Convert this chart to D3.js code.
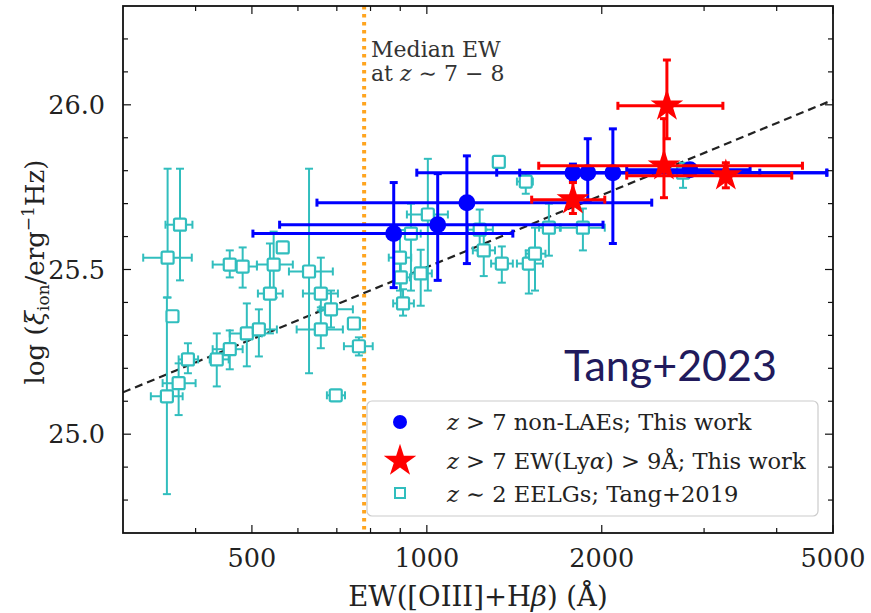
<!DOCTYPE html>
<html><head><meta charset="utf-8">
<script src="https://cdn.jsdelivr.net/npm/d3@7"></script>
<style>
html,body{margin:0;padding:0;background:#fff;}
svg text{font-family:"DejaVu Serif","Liberation Serif",serif;}
</style></head>
<body><svg id="c" width="871" height="613"></svg>
<script>
// ---------- data ----------
// z>7 non-LAEs (blue circles): EW, log xi_ion and error extents
const blueEW   = [877, 1044, 1172, 1784, 1892, 2090, 2836];
const blueY    = [25.609, 25.636, 25.703, 25.794, 25.794, 25.794, 25.803];
const blueEWlo = [502, 558, 647, 961, 1319, 1445, 2208];
const blueEWhi = [1406, 2010, 2438, 3741, 4879, 4879, 3600];
const blueYlo  = [25.445, 25.467, 25.518, 25.77, 25.709, 25.579, 25.79];
const blueYhi  = [25.764, 25.791, 25.845, 25.82, 25.897, 25.927, 25.815];

// z>7 EW(Lya)>9A (red stars)
const redEW   = [2589, 2559, 3270, 1784];
const redY    = [25.997, 25.815, 25.785, 25.712];
const redEWlo = [2132, 1558, 2208, 1515];
const redEWhi = [3232, 4430, 4246, 2024];
const redYlo  = [25.897, 25.718, 25.748, 25.670];
const redYhi  = [26.136, 25.958, 25.824, 25.764];

// z~2 EELGs, Tang+2019 (cyan squares); null = no error bar
const cyanEW   = [358, 376, 365, 357, 374, 388, 435, 458, 490, 514, 458, 482, 545, 565, 537, 627, 657, 684, 657, 749, 764, 697, 1330, 1480, 1004, 939, 899, 902, 976, 910, 1233, 1253, 1346, 1498, 1535, 1622, 1856, 2760];
const cyanY    = [25.536, 25.636, 25.358, 25.115, 25.155, 25.227, 25.227, 25.258, 25.306, 25.318, 25.515, 25.509, 25.515, 25.567, 25.427, 25.494, 25.427, 25.379, 25.318, 25.336, 25.267, 25.118, 25.827, 25.767, 25.667, 25.609, 25.536, 25.476, 25.488, 25.397, 25.621, 25.558, 25.518, 25.518, 25.548, 25.627, 25.627, 25.794];
const cyanEWlo = [325, 355, null, 335, 351, 374, 423, 428, 458, 490, 428, 458, 510, null, 512, 579, 612, 654, 597, null, 720, 673, 1310, 1429, 924, 895, 860, 880, 940, 875, 1177, 1200, 1290, 1429, 1480, 1560, 1700, 2650];
const cyanEWhi = [394, 395, null, 380, 400, 404, 456, 482, 520, 552, 482, 510, 588, null, 565, 689, 703, 746, 717, null, 807, 723, 1350, 1522, 1087, 976, 940, 935, 1020, 950, 1299, 1310, 1406, 1584, 1600, 1694, 2024, 2870];
const cyanYlo  = [25.415, 25.467, null, 24.818, 25.058, 25.185, 25.145, 25.197, 25.206, 25.236, 25.476, 25.445, 25.415, null, 25.306, 25.185, 25.376, 25.324, 25.261, null, 25.239, 25.11, 25.82, 25.730, 25.436, 25.436, 25.436, 25.39, 25.39, 25.36, 25.558, 25.48, 25.46, 25.427, 25.436, 25.542, 25.558, 25.748];
const cyanYhi  = [25.806, 25.806, null, 25.415, 25.215, 25.276, 25.306, 25.315, 25.397, 25.379, 25.558, 25.567, 25.615, null, 25.579, 25.806, 25.536, 25.436, 25.385, null, 25.294, 25.125, 25.835, 25.791, 25.836, 25.70, 25.62, 25.54, 25.56, 25.44, 25.682, 25.621, 25.57, 25.558, 25.627, 25.70, 25.685, 25.824];

// dashed relation and median EW line
const fitEW = [300, 5000];
const fitY  = [25.127, 26.015];
const medianEW = 780;

const xTickVals = [500, 1000, 2000, 5000];
const xMinor = [400, 600, 700, 800, 900, 3000, 4000];
const yTickVals = [25.0, 25.5, 26.0];
const yMinor = [24.8, 24.9, 25.1, 25.2, 25.3, 25.4, 25.6, 25.7, 25.8, 25.9, 26.1, 26.2];

// ---------- layout ----------
const svg = d3.select("#c");
const L = 123, T = 6, R = 833, B = 533;
const x = d3.scaleLog().domain([300, 5000]).range([L, R]);
const y = d3.scaleLinear().domain([24.7, 26.3]).range([B, T]);

const cyan = "#31bebe", blue = "#0000ff", red = "#ff0000";

const plot = svg.append("g");
svg.append("clipPath").attr("id","pc").append("rect")
  .attr("x",L).attr("y",T).attr("width",R-L).attr("height",B-T);
const g = plot.append("g").attr("clip-path","url(#pc)");

// median EW vertical dotted line
g.append("line").attr("x1",x(medianEW)).attr("x2",x(medianEW))
  .attr("y1",T).attr("y2",B).attr("stroke","#ffa51f").attr("stroke-width",4)
  .attr("stroke-dasharray","3.5,4.5");

// dashed fit line
g.append("line").attr("x1",x(fitEW[0])).attr("y1",y(fitY[0]))
  .attr("x2",x(fitEW[1])).attr("y2",y(fitY[1]))
  .attr("stroke","#222").attr("stroke-width",2.2).attr("stroke-dasharray","8,5");

function errbars(sel, n, ew, yy, lo, hi, ylo, yhi, color, w, cap){
  for(let i=0;i<n;i++){
    const cx = x(ew[i]), cy = y(yy[i]);
    if(lo[i]!==null){
      sel.append("line").attr("x1",x(lo[i])).attr("x2",x(hi[i])).attr("y1",cy).attr("y2",cy)
        .attr("stroke",color).attr("stroke-width",w);
      [lo[i],hi[i]].forEach(v=>sel.append("line").attr("x1",x(v)).attr("x2",x(v))
        .attr("y1",cy-cap).attr("y2",cy+cap).attr("stroke",color).attr("stroke-width",w));
    }
    if(ylo[i]!==null){
      sel.append("line").attr("x1",cx).attr("x2",cx).attr("y1",y(ylo[i])).attr("y2",y(yhi[i]))
        .attr("stroke",color).attr("stroke-width",w);
      [ylo[i],yhi[i]].forEach(v=>sel.append("line").attr("x1",cx-cap).attr("x2",cx+cap)
        .attr("y1",y(v)).attr("y2",y(v)).attr("stroke",color).attr("stroke-width",w));
    }
  }
}

// cyan
const gc = g.append("g");
errbars(gc, cyanEW.length, cyanEW, cyanY, cyanEWlo, cyanEWhi, cyanYlo, cyanYhi, cyan, 2, 4);
gc.selectAll("rect.sq").data(cyanEW).join("rect").attr("class","sq")
  .attr("x",(d,i)=>x(d)-6).attr("y",(d,i)=>y(cyanY[i])-6)
  .attr("width",12).attr("height",12).attr("rx",1.5)
  .attr("fill","#fff").attr("stroke",cyan).attr("stroke-width",2.2);

// blue
const gb = g.append("g");
errbars(gb, blueEW.length, blueEW, blueY, blueEWlo, blueEWhi, blueYlo, blueYhi, blue, 3, 4);
gb.selectAll("circle").data(blueEW).join("circle")
  .attr("cx",d=>x(d)).attr("cy",(d,i)=>y(blueY[i])).attr("r",8.5).attr("fill",blue);

// red
const gr = g.append("g");
errbars(gr, redEW.length, redEW, redY, redEWlo, redEWhi, redYlo, redYhi, red, 3, 4);
const star = d3.symbol().type(d3.symbolStar).size(330);
gr.selectAll("path.st").data(redEW).join("path").attr("class","st")
  .attr("d",star).attr("fill",red)
  .attr("transform",(d,i)=>`translate(${x(d)},${y(redY[i])})`);

// axes frame + ticks
const ax = svg.append("g");
ax.append("rect").attr("x",L).attr("y",T).attr("width",R-L).attr("height",B-T)
  .attr("fill","none").attr("stroke","#111").attr("stroke-width",1.8);
function xt(vals,len){
  vals.forEach(v=>{
    ax.append("line").attr("x1",x(v)).attr("x2",x(v)).attr("y1",B).attr("y2",B-len).attr("stroke","#111").attr("stroke-width",1.2);
    ax.append("line").attr("x1",x(v)).attr("x2",x(v)).attr("y1",T).attr("y2",T+len).attr("stroke","#111").attr("stroke-width",1.2);
  });
}
function yt(vals,len){
  vals.forEach(v=>{
    ax.append("line").attr("y1",y(v)).attr("y2",y(v)).attr("x1",L).attr("x2",L+len).attr("stroke","#111").attr("stroke-width",1.2);
    ax.append("line").attr("y1",y(v)).attr("y2",y(v)).attr("x1",R).attr("x2",R-len).attr("stroke","#111").attr("stroke-width",1.2);
  });
}
xt(xTickVals,8); xt(xMinor,5); yt(yTickVals,8); yt(yMinor,5);

ax.selectAll("text.xl").data(xTickVals).join("text").attr("class","xl")
  .attr("x",d=>x(d)).attr("y",567).attr("text-anchor","middle")
  .attr("font-size",25.5).attr("fill","#222").text(d=>d);
ax.selectAll("text.yl").data(yTickVals).join("text").attr("class","yl")
  .attr("x",105).attr("y",d=>y(d)+9).attr("text-anchor","end")
  .attr("font-size",25.5).attr("fill","#222").text(d=>d.toFixed(1));

// axis labels
const xl = svg.append("text").attr("x",478).attr("y",606).attr("text-anchor","middle")
  .attr("font-size",27.5).attr("fill","#222");
xl.append("tspan").text("EW([OIII]+H");
xl.append("tspan").attr("font-style","italic").text("β");
xl.append("tspan").text(") (Å)");

const yl = svg.append("text").attr("transform","translate(44,272) rotate(-90)")
  .attr("text-anchor","middle").attr("font-size",26).attr("fill","#222");
yl.append("tspan").text("log (");
yl.append("tspan").attr("font-style","italic").text("ξ");
yl.append("tspan").attr("font-size",17).attr("dy",5).text("ion");
yl.append("tspan").attr("dy",-5).text("/erg");
yl.append("tspan").attr("font-size",17).attr("dy",-10).text("−1");
yl.append("tspan").attr("dy",10).text("Hz)");

// median annotation
const ma = svg.append("g").attr("font-size",22).attr("fill","#333");
ma.append("text").attr("x",371).attr("y",57).text("Median EW");
const t2 = ma.append("text").attr("x",371).attr("y",81);
t2.append("tspan").text("at ");
t2.append("tspan").attr("font-style","italic").text("z");
t2.append("tspan").text(" ∼ 7 − 8");

// Tang+2023
svg.append("text").attr("x",564).attr("y",381)
  .style("font-family","Lato, 'Open Sans', sans-serif")
  .attr("font-size",43).attr("fill","#211a5c").text("Tang+2023");

// legend
const lg = svg.append("g");
lg.append("rect").attr("x",367).attr("y",401).attr("width",451).attr("height",115).attr("rx",5)
  .attr("fill","#fff").attr("fill-opacity",0.85).attr("stroke","#ccc").attr("stroke-width",1.2);
lg.append("circle").attr("cx",400).attr("cy",422).attr("r",7).attr("fill",blue);
lg.append("path").attr("d",star).attr("fill",red).attr("transform","translate(400,461)");
lg.append("rect").attr("x",395).attr("y",488).attr("width",10).attr("height",10)
  .attr("fill","#fff").attr("stroke",cyan).attr("stroke-width",2);
const fs = 22.6;
const l1 = lg.append("text").attr("x",447).attr("y",430).attr("font-size",fs).attr("fill","#222");
l1.append("tspan").attr("font-style","italic").text("z"); l1.append("tspan").text(" > 7 non-LAEs; This work");
const l2 = lg.append("text").attr("x",447).attr("y",469).attr("font-size",fs).attr("fill","#222");
l2.append("tspan").attr("font-style","italic").text("z"); l2.append("tspan").text(" > 7 EW(Ly");
l2.append("tspan").attr("font-style","italic").text("α"); l2.append("tspan").text(") > 9Å; This work");
const l3 = lg.append("text").attr("x",447).attr("y",502).attr("font-size",fs).attr("fill","#222");
l3.append("tspan").attr("font-style","italic").text("z"); l3.append("tspan").text(" ∼ 2 EELGs; Tang+2019");
</script></body></html>
